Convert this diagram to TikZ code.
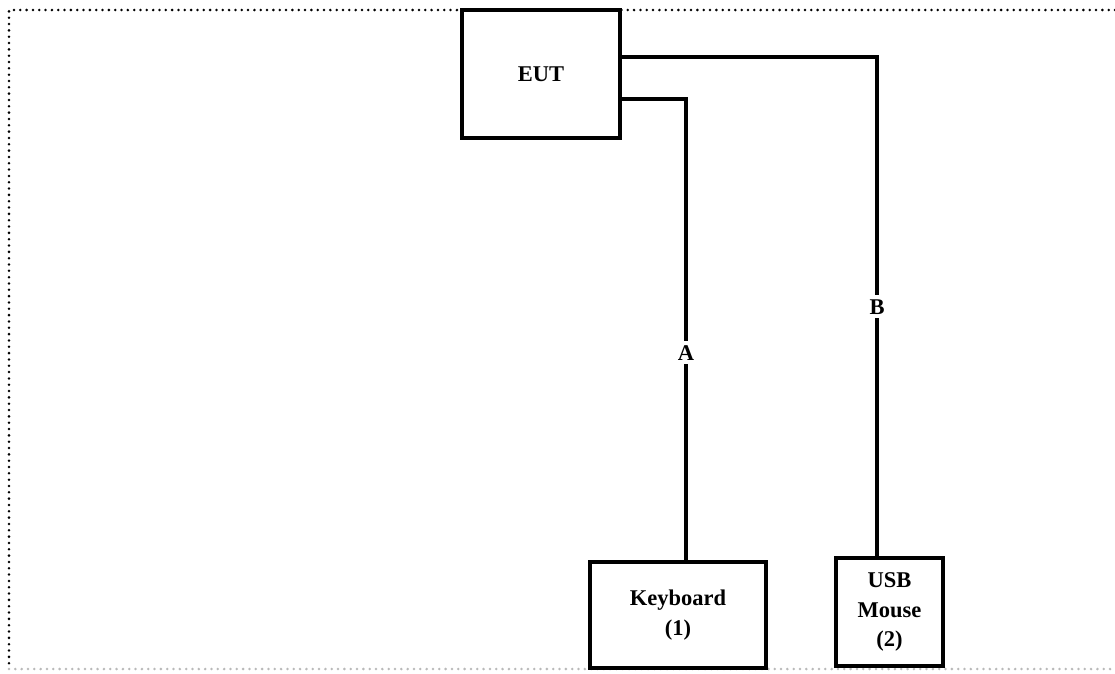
\documentclass[tikz,border=0pt]{standalone}
\usepackage{fontspec}
\setmainfont{Liberation Serif}
\usepackage{tikz}
\definecolor{framegray}{RGB}{185, 185, 185}

\begin{document}
\begin{tikzpicture}[
  x=0.025cm, y=-0.025cm,
  unit/.style={draw, line width=2.3pt, inner sep=0pt, align=center,
               font=\fontsize{16}{21}\selectfont\bfseries},
  wire/.style={line width=2.3pt},
  cablelabel/.style={fill=white, inner sep=3pt, font=\fontsize{16}{21}\selectfont\bfseries},
  frame/.style={line width=2pt, line cap=round, dash pattern=on 0pt off 4.5pt}
]
  \useasboundingbox (0,0) rectangle (1115,673);

  % Test area border
  \draw[frame] (1115,10) -- (9,10) -- (9,669);
  \draw[frame, framegray] (9,669) -- (1115,669);

  % EUT
  \node[unit, minimum width=3.95cm, minimum height=3.2cm] (eut) at (541,74) {EUT};

  % Peripherals
  \node[unit, minimum width=4.4cm, minimum height=2.65cm] (keyboard) at (678,615) {Keyboard\\(1)};
  \node[unit, minimum width=2.675cm, minimum height=2.7cm] (mouse) at (889.5,612) {USB\\Mouse\\(2)};

  % Cables
  \coordinate (aturn) at (686,99);
  \coordinate (bturn) at (877,57);
  \draw[wire] (eut.east |- aturn) -- (aturn) -- node[cablelabel, pos=0.55] {A} (aturn |- keyboard.north);
  \draw[wire] (eut.east |- bturn) -- (bturn) -- node[cablelabel] {B} (bturn |- mouse.north);

\end{tikzpicture}
\end{document}
